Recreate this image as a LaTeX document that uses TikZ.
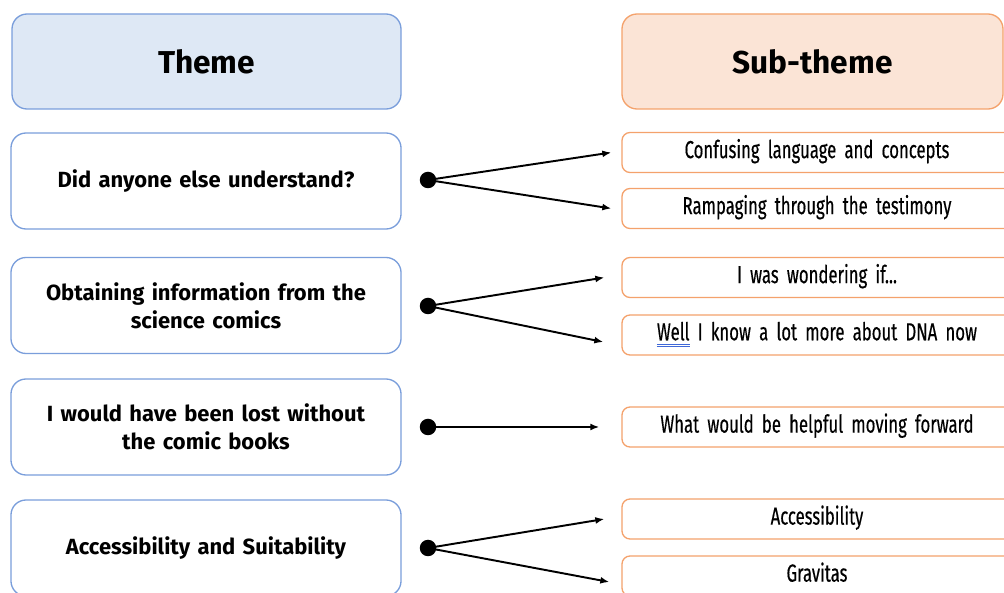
\documentclass[tikz,border=0pt]{standalone}
\usepackage{fontspec}
\usepackage{xcolor}
\usepackage{tikz}
\usetikzlibrary{arrows.meta}
\setmainfont{Fira Sans}
\newfontfamily\narrowfont[FakeStretch=0.68,FakeBold=0.4]{Fira Sans}
\definecolor{themeBlue}{HTML}{DEE8F5}
\definecolor{themeBlueLine}{HTML}{7A9EDB}
\definecolor{subOrange}{HTML}{FBE4D6}
\definecolor{subOrangeLine}{HTML}{F4A26C}
\definecolor{spellBlue}{HTML}{3F68D8}
% double underline as in the source document
\newcommand\spellword[1]{\leavevmode\setbox0\hbox{#1}\rlap{\color{spellBlue}\rule[-2.6pt]{\wd0}{0.6pt}}\rlap{\color{spellBlue}\rule[-3.9pt]{\wd0}{0.6pt}}\box0\relax}
\tikzset{
  headbox/.style 2 args={rectangle, rounded corners=0.3cm, draw=#1, fill=#2, line width=0.75pt, align=center, font=\fontsize{18}{20}\selectfont\bfseries, minimum height=1.9cm, inner sep=2pt},
  themebox/.style={rectangle, rounded corners=0.3cm, draw=themeBlueLine, fill=white, line width=0.75pt, align=center, font=\fontsize{12.5}{16}\selectfont\bfseries, text width=7.66cm, minimum height=1.92cm, inner sep=2pt},
  subbox/.style={rectangle, rounded corners=0.16cm, draw=subOrangeLine, fill=white, line width=0.75pt, align=center, font=\narrowfont\fontsize{14}{16}\selectfont, text width=7.66cm, minimum height=0.8cm, inner sep=2pt, text depth=0.45em},
  dot/.style={circle, fill=black, inner sep=0pt, minimum size=0.33cm},
  flowarrow/.style={-{Latex[length=1.8mm,width=1.4mm]}, line width=1.1pt, shorten <=-1pt},
}

\begin{document}
\begin{tikzpicture}[x=1cm,y=1cm]
  \useasboundingbox (0,0) rectangle (20.08,11.86);
  \clip (0,0) rectangle (20.08,11.86);

  \node[headbox={themeBlueLine}{themeBlue}, minimum width=7.78cm] (theme) at (4.13,10.63) {Theme};
  \node[headbox={subOrangeLine}{subOrange}, minimum width=7.62cm] (subtheme) at (16.25,10.63) {Sub-theme};

  % themes
  \node[themebox] (understand) at (4.12,8.24) {Did anyone else understand?};
  \node[themebox] (obtaining) at (4.12,5.75) {Obtaining information from the \\ science comics};
  \node[themebox] (lost) at (4.12,3.32) {I would have been lost without \\ the comic books};
  \node[themebox] (access) at (4.12,0.90) {Accessibility and Suitability};

  % sub-themes
  \node[subbox] (confusing) at (16.34,8.81) {Confusing language and concepts};
  \node[subbox] (rampaging) at (16.34,7.69) {Rampaging through the testimony};
  \node[subbox] (wondering) at (16.34,6.31) {I was wondering if...};
  \node[subbox] (dna) at (16.34,5.16) {\spellword{Well} I know a lot more about DNA now};
  \node[subbox] (helpful) at (16.34,3.32) {What would be helpful moving forward};
  \node[subbox] (accessibility) at (16.34,1.48) {Accessibility};
  \node[subbox] (gravitas) at (16.34,0.34) {Gravitas};

  \node[dot] (d1) at (8.56,8.26) {};
  \node[dot] (d2) at (8.56,5.74) {};
  \node[dot] (d3) at (8.56,3.32) {};
  \node[dot] (d4) at (8.56,0.90) {};

  \draw[flowarrow] (d1.center) -- ([xshift=-0.2cm]confusing.west);
  \draw[flowarrow] (d1.center) -- ([xshift=-0.2cm]rampaging.west);
  \draw[flowarrow] (d2.center) -- ([xshift=-0.34cm]wondering.west);
  \draw[flowarrow] (d2.center) -- ([xshift=-0.36cm,yshift=-0.14cm]dna.west);
  \draw[flowarrow] (d3.center) -- ([xshift=-0.44cm]helpful.west);
  \draw[flowarrow] (d4.center) -- ([xshift=-0.34cm]accessibility.west);
  \draw[flowarrow] (d4.center) -- ([xshift=-0.24cm,yshift=-0.12cm]gravitas.west);
\end{tikzpicture}
\end{document}
